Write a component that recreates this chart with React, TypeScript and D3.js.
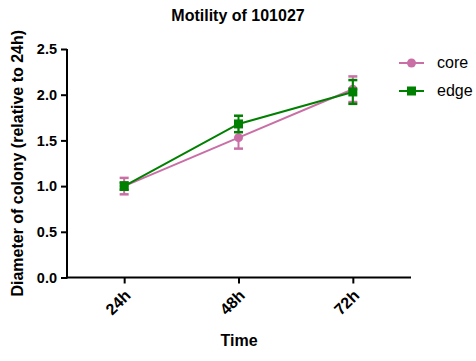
import React, { useRef, useEffect } from 'react';
import * as d3 from 'd3';

// Motility of 101027 - colony diameter relative to 24h
const timepoints = ['24h', '48h', '72h'];
const coreMean = [1.0, 1.53, 2.06];
const coreErr = [0.09, 0.12, 0.14];
const edgeMean = [1.0, 1.68, 2.03];
const edgeErr = [0.04, 0.09, 0.13];
const yTicks = [0.0, 0.5, 1.0, 1.5, 2.0, 2.5];

const CORE = '#c96fa6';
const EDGE = '#008000';

function App() {
  const ref = useRef<SVGSVGElement>(null);

  useEffect(() => {
    const svg = d3.select(ref.current);
    svg.selectAll('*').remove();

    const left = 67, right = 410, top = 49, bottom = 277.5;
    const font = 'Arial, "Liberation Sans", sans-serif';

    const x = d3.scalePoint<string>().domain(timepoints).range([left, right]).padding(0.5);
    const y = d3.scaleLinear().domain([0, 2.5]).range([bottom, top]);

    // title
    svg.append('text')
      .attr('x', 238).attr('y', 21)
      .attr('text-anchor', 'middle')
      .attr('font-family', font).attr('font-size', 16).attr('font-weight', 'bold')
      .text('Motility of 101027');

    // y axis
    const yAxis = svg.append('g')
      .attr('transform', 'translate(' + left + ',0)')
      .call(d3.axisLeft(y).tickValues(yTicks).tickFormat(d3.format('.1f')).tickSize(6).tickSizeOuter(0));
    yAxis.select('.domain').attr('stroke', '#000').attr('stroke-width', 2)
      .attr('d', 'M0,' + (bottom + 1) + 'V' + top);
    yAxis.selectAll('.tick line').attr('stroke-width', 2);
    yAxis.selectAll('.tick text')
      .attr('font-family', font).attr('font-size', 14.5).attr('font-weight', 'bold')
      .attr('x', -10).attr('fill', '#000');

    // x axis
    const xAxis = svg.append('g')
      .attr('transform', 'translate(0,' + bottom + ')')
      .call(d3.axisBottom(x).tickSize(6).tickSizeOuter(0));
    xAxis.select('.domain').attr('stroke', '#000').attr('stroke-width', 2)
      .attr('d', 'M' + (left - 1) + ',0H' + (right + 1));
    xAxis.selectAll('.tick line').attr('stroke-width', 2);
    xAxis.selectAll('.tick text')
      .attr('font-family', font).attr('font-size', 16).attr('font-weight', 'bold')
      .attr('fill', '#000')
      .attr('text-anchor', 'end')
      .attr('dy', null).attr('y', null)
      .attr('transform', 'translate(7,19)rotate(-45)');

    // axis titles
    svg.append('text')
      .attr('x', 239).attr('y', 346)
      .attr('text-anchor', 'middle')
      .attr('font-family', font).attr('font-size', 16).attr('font-weight', 'bold')
      .text('Time');
    svg.append('text')
      .attr('transform', 'translate(23,' + ((top + bottom) / 2) + ')rotate(-90)')
      .attr('text-anchor', 'middle')
      .attr('font-family', font).attr('font-size', 16).attr('font-weight', 'bold')
      .text('Diameter of colony (relative to 24h)');

    const series = [
      { name: 'core', mean: coreMean, err: coreErr, color: CORE, shape: 'circle' },
      { name: 'edge', mean: edgeMean, err: edgeErr, color: EDGE, shape: 'square' },
    ];

    const line = d3.line<number>()
      .x((d, i) => x(timepoints[i]) as number)
      .y((d) => y(d));

    const marker = (g: any, shape: string, color: string, cx: number, cy: number) => {
      if (shape === 'circle') {
        g.append('circle').attr('cx', cx).attr('cy', cy).attr('r', 4.5).attr('fill', color);
      } else {
        g.append('rect').attr('x', cx - 4.5).attr('y', cy - 4.5)
          .attr('width', 9).attr('height', 9).attr('fill', color);
      }
    };

    series.forEach((s) => {
      const g = svg.append('g');
      // error bars
      s.mean.forEach((m, i) => {
        const cx = x(timepoints[i]) as number;
        const y1 = y(m + s.err[i]);
        const y2 = y(m - s.err[i]);
        g.append('line').attr('x1', cx).attr('x2', cx).attr('y1', y1).attr('y2', y2)
          .attr('stroke', s.color).attr('stroke-width', 2);
        [y1, y2].forEach((yy) => {
          g.append('line').attr('x1', cx - 4.5).attr('x2', cx + 4.5).attr('y1', yy).attr('y2', yy)
            .attr('stroke', s.color).attr('stroke-width', 2.5);
        });
      });
      g.append('path').datum(s.mean).attr('d', line)
        .attr('fill', 'none').attr('stroke', s.color).attr('stroke-width', 2);
      s.mean.forEach((m, i) => {
        marker(g, s.shape, s.color, x(timepoints[i]) as number, y(m));
      });
    });

    // legend
    series.forEach((s, i) => {
      const ly = 63 + i * 28;
      const g = svg.append('g');
      g.append('line').attr('x1', 399).attr('x2', 424).attr('y1', ly).attr('y2', ly)
        .attr('stroke', s.color).attr('stroke-width', 2);
      marker(g, s.shape, s.color, 411.5, ly);
      g.append('text').attr('x', 437).attr('y', ly + 5)
        .attr('font-family', font).attr('font-size', 16)
        .text(s.name);
    });
  }, []);

  return (
    <svg ref={ref} width={476} height={361}
      style={{ position: 'absolute', left: 0, top: 0, background: '#fff' }} />
  );
}

export default App;
